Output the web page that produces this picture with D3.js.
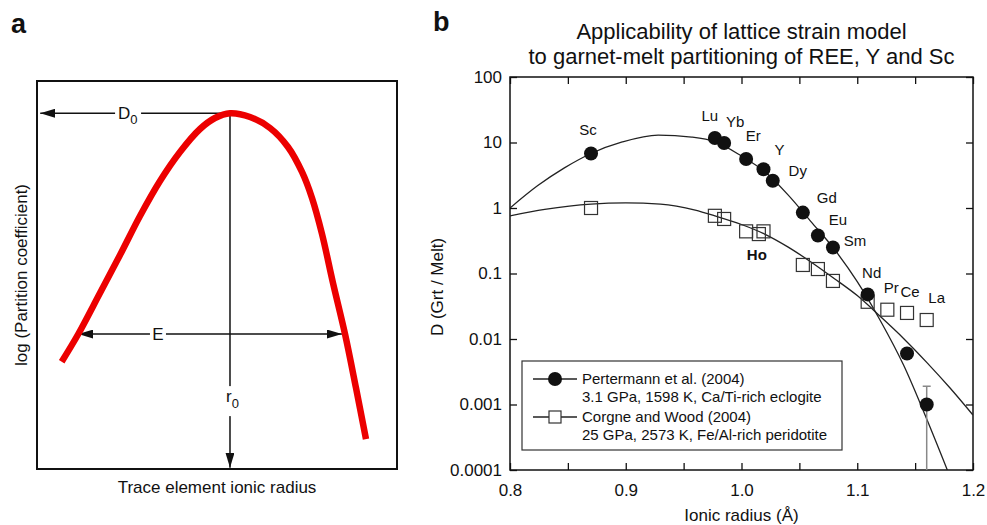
<!DOCTYPE html>
<html>
<head>
<meta charset="utf-8">
<script src="https://cdn.jsdelivr.net/npm/d3@7"></script>
<style>
  body { margin: 0; background: #fff; }
  text { font-family: "Liberation Sans", Arial, Helvetica, sans-serif; fill: #111; }
</style>
</head>
<body>
<svg id="chart" width="987" height="525"></svg>
<script>
// ---- panel a : schematic lattice strain parabola (arbitrary 0-100 units)
const schemeX = [6.86, 11.47, 17.5, 23.06, 28.61, 34.17, 39.72, 45.28, 49.44, 53.61, 59.17, 64.72, 69.72, 73.61, 76.39, 79.17, 82.22, 85.56, 88.61, 91.39];
const schemeY = [27.65, 34.79, 45.36, 55.15, 65.21, 74.23, 81.7, 87.63, 90.46, 91.7, 90.72, 87.89, 82.99, 76.55, 69.85, 60.57, 47.94, 34.79, 20.88, 7.73];
const schemePeak = [53.61, 91.7];   // r0, D0
const schemeE = [11.47, 84.7, 34.79]; // x from, x to, level

// ---- panel b : Pertermann et al. (2004), filled circles
const pertElements = ["Sc", "Lu", "Yb", "Er", "Y", "Dy", "Gd", "Eu", "Sm", "Nd", "Ce", "La"];
const pertRadius = [0.870, 0.977, 0.985, 1.004, 1.019, 1.027, 1.053, 1.066, 1.079, 1.109, 1.143, 1.160];
const pertD = [6.8, 11.7, 9.8, 5.6, 3.9, 2.6, 0.85, 0.38, 0.25, 0.048, 0.006, 0.001];
const laErrorBar = [0.0001, 0.0019];

// ---- Corgne and Wood (2004), open squares
const cwElements = ["Sc", "Lu", "Yb", "Er", "Ho", "Y", "Gd", "Eu", "Sm", "Nd", "Pr", "Ce", "La"];
const cwRadius = [0.870, 0.977, 0.985, 1.004, 1.015, 1.019, 1.053, 1.066, 1.079, 1.109, 1.126, 1.143, 1.160];
const cwD = [1.0, 0.76, 0.68, 0.44, 0.40, 0.44, 0.135, 0.117, 0.077, 0.037, 0.028, 0.025, 0.0195];

// ---- fitted lattice strain curves
const pertFitR = [0.80, 0.824, 0.847, 0.87, 0.897, 0.928, 0.957, 0.977, 1.00, 1.02, 1.04, 1.06, 1.08, 1.10, 1.12, 1.14, 1.16, 1.18];
const pertFitD = [1.0, 2.2, 4.1, 6.8, 10.2, 13.0, 12.1, 10.3, 6.2, 3.6, 1.6, 0.62, 0.237, 0.075, 0.019, 0.0040, 0.00060, 0.00008];
const cwFitR = [0.80, 0.83, 0.87, 0.90, 0.93, 0.96, 0.977, 1.00, 1.02, 1.04, 1.06, 1.08, 1.10, 1.12, 1.14, 1.16, 1.18, 1.20];
const cwFitD = [0.76, 0.95, 1.15, 1.2, 1.15, 0.93, 0.76, 0.56, 0.40, 0.255, 0.15, 0.084, 0.046, 0.022, 0.0102, 0.0044, 0.0018, 0.00069];

// ---- ticks
const xTickLabels = ["0.8", "0.9", "1.0", "1.1", "1.2"];
const xMinorTicks = [0.85, 0.95, 1.05, 1.15];
const yTickLabels = ["0.0001", "0.001", "0.01", "0.1", "1", "10", "100"];

const legendRows = [
  ["Pertermann et al. (2004)", "3.1 GPa, 1598 K, Ca/Ti-rich eclogite"],
  ["Corgne and Wood (2004)", "25 GPa, 2573 K, Fe/Al-rich peridotite"]
];

const svg = d3.select("#chart");
const ink = "#111";

// arrow head marker
svg.append("defs")
  .append("marker")
  .attr("id", "arrow")
  .attr("viewBox", "0 0 10 10")
  .attr("refX", 10)
  .attr("refY", 5)
  .attr("markerWidth", 15)
  .attr("markerHeight", 9)
  .attr("markerUnits", "userSpaceOnUse")
  .attr("preserveAspectRatio", "none")
  .attr("orient", "auto-start-reverse")
  .append("path")
  .attr("d", "M0,0L10,5L0,10Z")
  .attr("fill", ink);

// ================= panel a =================
const xA = d3.scaleLinear().domain([0, 100]).range([37, 397]);
const yA = d3.scaleLinear().domain([0, 100]).range([469, 81]);
const gA = svg.append("g");

gA.append("text").attr("x", 11).attr("y", 33)
  .attr("font-size", 27).attr("font-weight", "bold").text("a");

gA.append("rect")
  .attr("x", xA(0)).attr("y", yA(100))
  .attr("width", xA(100) - xA(0)).attr("height", yA(0) - yA(100))
  .attr("fill", "none").attr("stroke", ink).attr("stroke-width", 2);

// D0 arrow (peak -> left frame)
gA.append("line")
  .attr("x1", xA(schemePeak[0])).attr("y1", yA(schemePeak[1]))
  .attr("x2", xA(0.9)).attr("y2", yA(schemePeak[1]))
  .attr("stroke", ink).attr("stroke-width", 1.5).attr("marker-end", "url(#arrow)");
// r0 arrow (peak -> bottom frame)
gA.append("line")
  .attr("x1", xA(schemePeak[0])).attr("y1", yA(schemePeak[1]))
  .attr("x2", xA(schemePeak[0])).attr("y2", yA(0.3))
  .attr("stroke", ink).attr("stroke-width", 1.5).attr("marker-end", "url(#arrow)");
// E double arrow
gA.append("line")
  .attr("x1", xA(schemeE[0])).attr("y1", yA(schemeE[2]))
  .attr("x2", xA(schemeE[1])).attr("y2", yA(schemeE[2]))
  .attr("stroke", ink).attr("stroke-width", 1.5)
  .attr("marker-start", "url(#arrow)").attr("marker-end", "url(#arrow)");

const lineA = d3.line()
  .x((d, i) => xA(schemeX[i]))
  .y((d) => yA(d))
  .curve(d3.curveCatmullRom.alpha(0.5));

gA.append("path")
  .attr("d", lineA(schemeY))
  .attr("fill", "none").attr("stroke", "#ec0000")
  .attr("stroke-width", 6.5).attr("stroke-linecap", "butt");

// labels with white knock-outs
const knock = (cx, cy, w, h) =>
  gA.append("rect").attr("x", cx - w / 2).attr("y", cy - h / 2)
    .attr("width", w).attr("height", h).attr("fill", "#fff");

knock(xA(25.3), yA(schemePeak[1]) + 2, 26, 24);
const d0 = gA.append("text").attr("x", xA(25.3) - 10).attr("y", yA(schemePeak[1]) + 6)
  .attr("font-size", 17);
d0.append("tspan").text("D");
d0.append("tspan").attr("dy", 5).attr("font-size", 13).text("0");

knock(xA(33.6), yA(schemeE[2]), 16, 20);
gA.append("text").attr("x", xA(33.6)).attr("y", yA(schemeE[2]) + 6)
  .attr("text-anchor", "middle").attr("font-size", 17).text("E");

knock(xA(schemePeak[0]), yA(17.5), 20, 30);
const r0 = gA.append("text").attr("x", xA(schemePeak[0]) - 4).attr("y", yA(17.5) + 1)
  .attr("font-size", 17);
r0.append("tspan").text("r");
r0.append("tspan").attr("dy", 6).attr("font-size", 13).text("0");

gA.append("text")
  .attr("x", (xA(0) + xA(100)) / 2).attr("y", 493)
  .attr("text-anchor", "middle").attr("font-size", 17)
  .text("Trace element ionic radius");

gA.append("text")
  .attr("transform", `translate(27,${(yA(0) + yA(100)) / 2}) rotate(-90)`)
  .attr("text-anchor", "middle").attr("font-size", 17)
  .text("log (Partition coefficient)");

// ================= panel b =================
const x = d3.scaleLinear().domain([0.8, 1.2]).range([510, 973]);
const y = d3.scaleLog().domain([0.0001, 100]).range([470, 77]);
const gB = svg.append("g");

gB.append("text").attr("x", 433).attr("y", 31)
  .attr("font-size", 27).attr("font-weight", "bold").text("b");

gB.append("text").attr("x", (x.range()[0] + x.range()[1]) / 2).attr("y", 39)
  .attr("text-anchor", "middle").attr("font-size", 22)
  .text("Applicability of lattice strain model");
gB.append("text").attr("x", (x.range()[0] + x.range()[1]) / 2).attr("y", 64)
  .attr("text-anchor", "middle").attr("font-size", 22)
  .text("to garnet-melt partitioning of REE, Y and Sc");

const styleAxis = (g) => {
  g.select(".domain").remove();
  g.selectAll("line").attr("stroke", ink).attr("stroke-width", 1.3);
  g.selectAll("text").attr("font-size", 17).attr("font-family", null).attr("fill", ink);
};

gB.append("g").attr("transform", `translate(0,${y.range()[0]})`)
  .call(d3.axisBottom(x).tickValues(xTickLabels.map(Number))
    .tickFormat((d, i) => xTickLabels[i]).tickSizeInner(-7).tickSizeOuter(0).tickPadding(14))
  .call(styleAxis);
gB.append("g").attr("transform", `translate(0,${y.range()[0]})`)
  .call(d3.axisBottom(x).tickValues(xMinorTicks).tickFormat("").tickSizeInner(-7).tickSizeOuter(0))
  .call(styleAxis);
gB.append("g").attr("transform", `translate(0,${y.range()[1]})`)
  .call(d3.axisTop(x).tickValues(xTickLabels.map(Number).concat(xMinorTicks))
    .tickFormat("").tickSizeInner(-7).tickSizeOuter(0))
  .call(styleAxis);
gB.append("g").attr("transform", `translate(${x.range()[0]},0)`)
  .call(d3.axisLeft(y).tickValues(yTickLabels.map(Number))
    .tickFormat((d, i) => yTickLabels[i]).tickSizeInner(-7).tickSizeOuter(0).tickPadding(8))
  .call(styleAxis);
gB.append("g").attr("transform", `translate(${x.range()[1]},0)`)
  .call(d3.axisRight(y).tickValues(yTickLabels.map(Number))
    .tickFormat("").tickSizeInner(-7).tickSizeOuter(0))
  .call(styleAxis);

gB.append("rect")
  .attr("x", x.range()[0]).attr("y", y.range()[1])
  .attr("width", x.range()[1] - x.range()[0]).attr("height", y.range()[0] - y.range()[1])
  .attr("fill", "none").attr("stroke", ink).attr("stroke-width", 1.5);

gB.append("text")
  .attr("x", (x.range()[0] + x.range()[1]) / 2).attr("y", 521)
  .attr("text-anchor", "middle").attr("font-size", 17)
  .text("Ionic radius (Å)");
gB.append("text")
  .attr("transform", "translate(443,287) rotate(-90)")
  .attr("text-anchor", "middle").attr("font-size", 17)
  .text("D (Grt / Melt)");

// clip for fit curves
svg.append("clipPath").attr("id", "plotClip").append("rect")
  .attr("x", x.range()[0]).attr("y", y.range()[1])
  .attr("width", x.range()[1] - x.range()[0]).attr("height", y.range()[0] - y.range()[1]);

const fitLine = (rs) => d3.line()
  .x((d, i) => x(rs[i]))
  .y((d) => y(d))
  .curve(d3.curveMonotoneX);

const curves = gB.append("g").attr("clip-path", "url(#plotClip)");
curves.append("path").attr("d", fitLine(pertFitR)(pertFitD))
  .attr("fill", "none").attr("stroke", "#222").attr("stroke-width", 1.3);
curves.append("path").attr("d", fitLine(cwFitR)(cwFitD))
  .attr("fill", "none").attr("stroke", "#222").attr("stroke-width", 1.3);

// error bar on La (Pertermann)
const laX = x(pertRadius[pertElements.indexOf("La")]);
gB.append("line")
  .attr("x1", laX).attr("x2", laX)
  .attr("y1", y(laErrorBar[0])).attr("y2", y(laErrorBar[1]))
  .attr("stroke", "#888").attr("stroke-width", 1.5);
gB.append("line")
  .attr("x1", laX - 4).attr("x2", laX + 4)
  .attr("y1", y(laErrorBar[1])).attr("y2", y(laErrorBar[1]))
  .attr("stroke", "#888").attr("stroke-width", 1.5);

// open squares
const sq = 13;
gB.append("g").selectAll("rect").data(cwD).join("rect")
  .attr("x", (d, i) => x(cwRadius[i]) - sq / 2)
  .attr("y", (d) => y(d) - sq / 2)
  .attr("width", sq).attr("height", sq)
  .attr("fill", "none").attr("stroke", "#333").attr("stroke-width", 1.2);

// filled circles
gB.append("g").selectAll("circle").data(pertD).join("circle")
  .attr("cx", (d, i) => x(pertRadius[i]))
  .attr("cy", (d) => y(d))
  .attr("r", 7).attr("fill", ink);

// element labels: offsets in pixels from the mark they annotate
const pertLabelOffset = {
  Sc: [-3, -24], Lu: [-5, -22], Yb: [11, -21], Er: [7, -23], Y: [16, -20],
  Dy: [25, -10], Gd: [24, -15], Eu: [20, -16], Sm: [22, -7], Nd: [4, -22]
};
const cwLabelOffset = { Pr: [4, -22], Ce: [3, -21], La: [10, -22], Ho: [-2, 21] };

const labels = gB.append("g").attr("font-size", 15).attr("text-anchor", "middle");
pertElements.forEach((el, i) => {
  const off = pertLabelOffset[el];
  if (!off) return;
  labels.append("text")
    .attr("x", x(pertRadius[i]) + off[0])
    .attr("y", y(pertD[i]) + off[1])
    .attr("dy", "0.35em")
    .text(el);
});
cwElements.forEach((el, i) => {
  const off = cwLabelOffset[el];
  if (!off) return;
  labels.append("text")
    .attr("x", x(cwRadius[i]) + off[0])
    .attr("y", y(cwD[i]) + off[1])
    .attr("dy", "0.35em")
    .attr("font-weight", el === "Ho" ? "bold" : null)
    .text(el);
});

// legend
const lg = gB.append("g").attr("transform", "translate(522,361)");
lg.append("rect").attr("width", 320).attr("height", 89)
  .attr("fill", "#fff").attr("stroke", "#333").attr("stroke-width", 1.2);
legendRows.forEach((row, i) => {
  const ry = 18 + i * 38;
  lg.append("line").attr("x1", 11).attr("x2", 55).attr("y1", ry).attr("y2", ry)
    .attr("stroke", "#222").attr("stroke-width", 1.3);
  if (i === 0) {
    lg.append("circle").attr("cx", 33).attr("cy", ry).attr("r", 7).attr("fill", ink);
  } else {
    lg.append("rect").attr("x", 33 - 6).attr("y", ry - 6).attr("width", 12).attr("height", 12)
      .attr("fill", "#fff").attr("stroke", "#333").attr("stroke-width", 1.2);
  }
  row.forEach((t, j) => {
    lg.append("text").attr("x", 60).attr("y", ry + j * 18).attr("dy", "0.35em")
      .attr("font-size", 15).text(t);
  });
});
</script>
</body>
</html>
